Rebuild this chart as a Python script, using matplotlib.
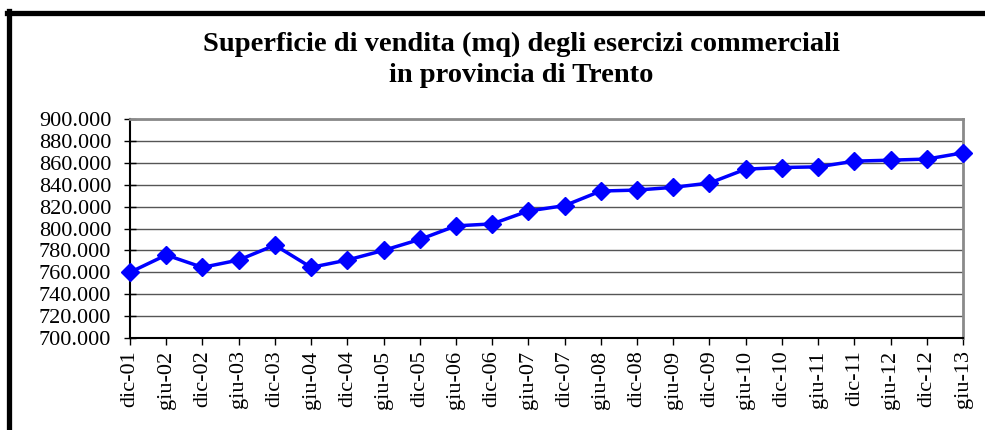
import matplotlib
matplotlib.use("Agg")
import matplotlib.pyplot as plt
from matplotlib.lines import Line2D
from matplotlib.ticker import FuncFormatter, MultipleLocator

periodi = ["dic-01", "giu-02", "dic-02", "giu-03", "dic-03", "giu-04", "dic-04",
           "giu-05", "dic-05", "giu-06", "dic-06", "giu-07", "dic-07", "giu-08",
           "dic-08", "giu-09", "dic-09", "giu-10", "dic-10", "giu-11", "dic-11",
           "giu-12", "dic-12", "giu-13"]
superficie = [760000, 775800, 764500, 771200, 784800, 764500, 771200,
              780000, 790000, 802400, 804200, 816000, 820900, 834200,
              835100, 837600, 841500, 854200, 855700, 856300, 861500,
              862400, 863400, 869100]

titolo = "Superficie di vendita (mq) degli esercizi commerciali\nin provincia di Trento"

plt.rcParams['font.family'] = ['Liberation Serif', 'DejaVu Serif']

fig = plt.figure(figsize=(9.85, 4.3), dpi=100)
ax = fig.add_axes([130/985, 92/430, 833/985, 219/430])

x = list(range(len(periodi)))
ax.plot(x, superficie, color='#0000FF', lw=2.5, marker='D', ms=9.5,
        clip_on=False, zorder=5)

ax.set_xlim(0, len(periodi) - 1)
ax.set_ylim(700000, 900000)
ax.yaxis.set_major_locator(MultipleLocator(20000))
ax.yaxis.set_major_formatter(FuncFormatter(lambda v, p: f"{int(v):,}".replace(",", ".")))
ax.set_xticks(x)
ax.set_xticklabels(periodi, rotation=90)
ax.grid(axis='y', color='#555555', lw=1)
ax.set_axisbelow(True)

ax.tick_params(axis='y', direction='inout', length=9, width=1, labelsize=16, pad=9)
ax.tick_params(axis='x', direction='out', length=5, width=1, labelsize=16, pad=4)

for s in ['left', 'bottom']:
    ax.spines[s].set_color('black')
    ax.spines[s].set_linewidth(1.5)
for s in ['top', 'right']:
    ax.spines[s].set_color('#8a8a8a')
    ax.spines[s].set_linewidth(2)

fig.text(521/985, 1 - 60/430, titolo, ha='center', va='center', fontsize=20.5,
         fontweight='bold', linespacing=1.3)

# cornice esterna
fig.add_artist(Line2D([7/985, 1], [1 - 12.5/430] * 2, color='black', lw=3.8,
                      transform=fig.transFigure))
fig.add_artist(Line2D([8.5/985] * 2, [0, 1 - 11/430], color='black', lw=3.8,
                      transform=fig.transFigure))

fig.savefig("out.png", dpi=100)
